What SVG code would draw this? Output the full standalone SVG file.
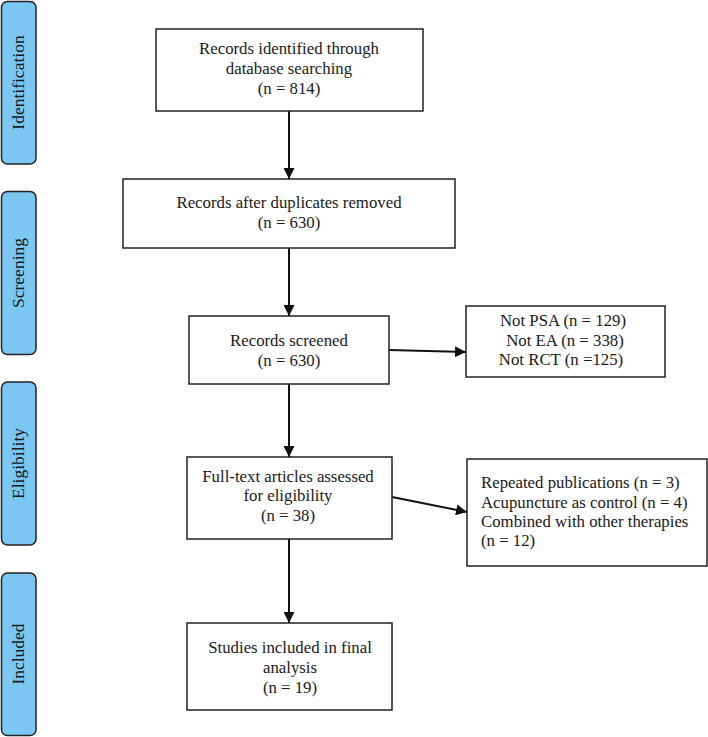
<svg xmlns="http://www.w3.org/2000/svg" width="708" height="737" viewBox="0 0 708 737">
<style>
  .box { fill: #ffffff; stroke: #222222; stroke-width: 1.5; }
  .bar { fill: #7cc6f2; stroke: #222222; stroke-width: 1.5; }
  .t { font-family: "Liberation Serif", "Times New Roman", serif; font-size: 16.8px; fill: #1a1a1a; }
  .s { font-size: 17.5px; }
  .c { text-anchor: middle; }
  .conn { stroke: #111111; stroke-width: 2; fill: none; marker-end: url(#arrow); }
</style>
<defs>
  <marker id="arrow" viewBox="0 0 10 10" refX="10" refY="5" markerWidth="5.5" markerHeight="5.5" markerUnits="strokeWidth" orient="auto">
    <path d="M0,0 L10,5 L0,10 Z" fill="#111111"/>
  </marker>
</defs>
<rect width="708" height="737" fill="#ffffff"/>

<g id="bar-identification">
  <rect class="bar" x="1.5" y="1.5" width="34.5" height="162.5" rx="6"/>
  <text class="t s c" transform="translate(24,82.5) rotate(-90)">Identification</text>
</g>
<g id="bar-screening">
  <rect class="bar" x="1.5" y="191.5" width="34.5" height="163" rx="6"/>
  <text class="t s c" transform="translate(24,273) rotate(-90)">Screening</text>
</g>
<g id="bar-eligibility">
  <rect class="bar" x="1.5" y="382" width="34.5" height="163" rx="6"/>
  <text class="t s c" transform="translate(24,463.5) rotate(-90)">Eligibility</text>
</g>
<g id="bar-included">
  <rect class="bar" x="1.5" y="573" width="34.5" height="162.5" rx="6"/>
  <text class="t s c" transform="translate(24,654) rotate(-90)">Included</text>
</g>

<g id="connectors">
  <line class="conn" x1="289" y1="111" x2="289" y2="179"/>
  <line class="conn" x1="289" y1="248" x2="289" y2="316"/>
  <line class="conn" x1="289" y1="384" x2="289" y2="457"/>
  <line class="conn" x1="289" y1="539" x2="289" y2="623"/>
  <line class="conn" x1="389" y1="350" x2="466" y2="352"/>
  <line class="conn" x1="392" y1="497" x2="467" y2="512"/>
</g>

<g id="node-identified">
  <rect class="box" x="156" y="29" width="267" height="82"/>
  <text class="t c" x="289" y="54">Records identified through</text>
  <text class="t c" x="289" y="74">database searching</text>
  <text class="t c" x="289" y="94">(n = 814)</text>
</g>
<g id="node-duplicates">
  <rect class="box" x="123" y="179" width="332" height="69"/>
  <text class="t c" x="289" y="208">Records after duplicates removed</text>
  <text class="t c" x="289" y="228">(n = 630)</text>
</g>
<g id="node-screened">
  <rect class="box" x="189" y="316" width="200" height="68"/>
  <text class="t c" x="289" y="346">Records screened</text>
  <text class="t c" x="289" y="366">(n = 630)</text>
</g>
<g id="node-excluded1">
  <rect class="box" x="466" y="306" width="199" height="71"/>
  <text class="t c" x="563" y="326">Not PSA (n = 129)</text>
  <text class="t c" x="565" y="346">Not EA (n = 338)</text>
  <text class="t c" x="561" y="365">Not RCT (n =125)</text>
</g>
<g id="node-fulltext">
  <rect class="box" x="187" y="457" width="205" height="82"/>
  <text class="t c" x="288" y="482">Full-text articles assessed</text>
  <text class="t c" x="288" y="501">for eligibility</text>
  <text class="t c" x="288" y="521">(n = 38)</text>
</g>
<g id="node-excluded2">
  <rect class="box" x="467" y="459" width="240" height="107"/>
  <text class="t" x="481" y="488">Repeated publications (n = 3)</text>
  <text class="t" x="481" y="508">Acupuncture as control (n = 4)</text>
  <text class="t" x="481" y="527">Combined with other therapies</text>
  <text class="t" x="481" y="546">(n = 12)</text>
</g>
<g id="node-included">
  <rect class="box" x="187" y="623" width="205" height="87"/>
  <text class="t c" x="290" y="653">Studies included in final</text>
  <text class="t c" x="290" y="673">analysis</text>
  <text class="t c" x="290" y="693">(n = 19)</text>
</g>
</svg>
